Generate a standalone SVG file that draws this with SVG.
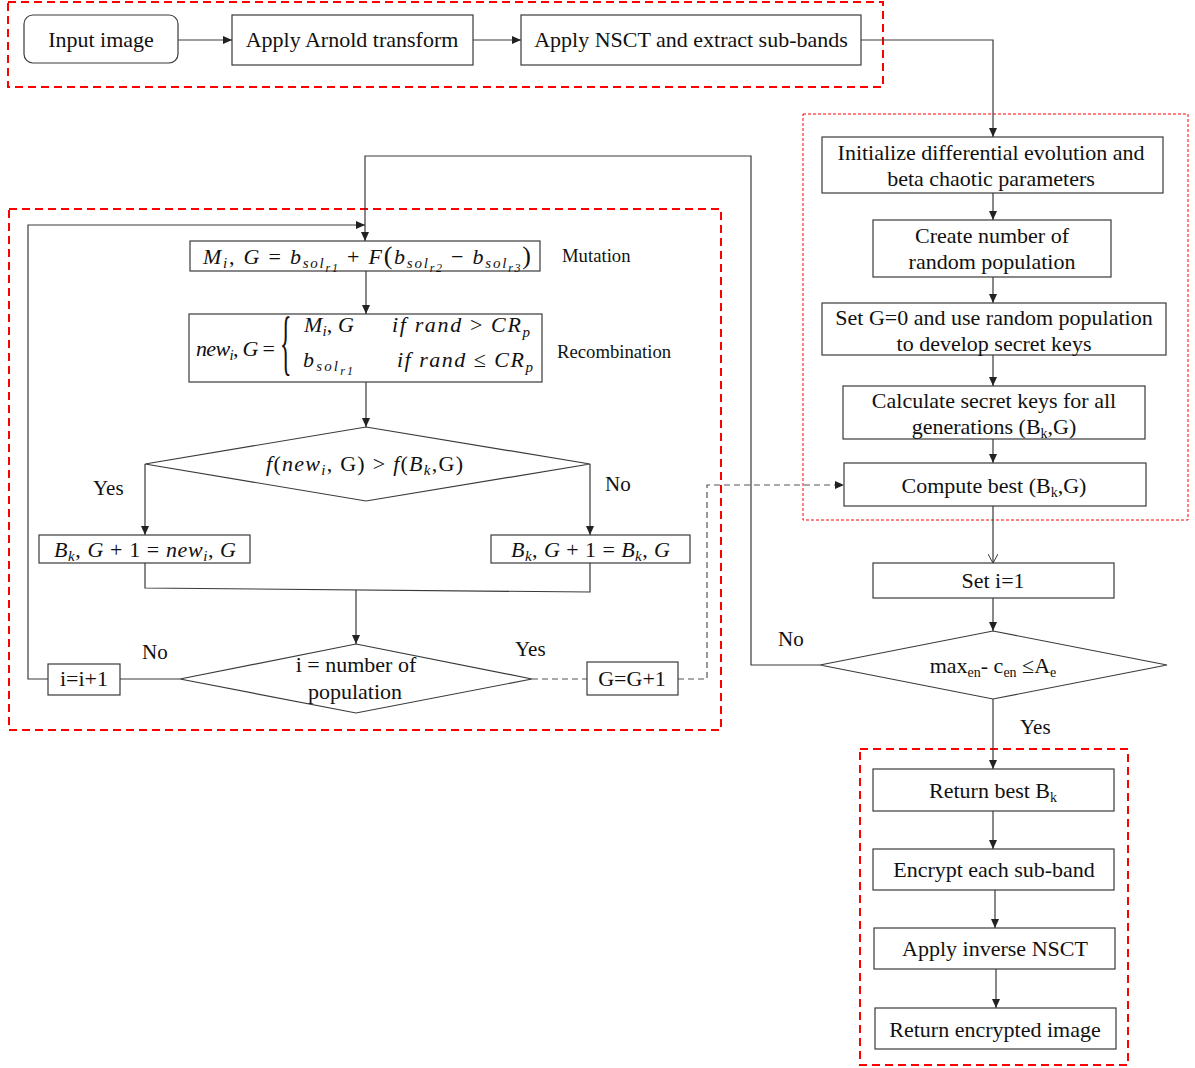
<svg xmlns="http://www.w3.org/2000/svg" width="1195" height="1068" viewBox="0 0 1195 1068">
  <style>
    .bg { fill: #ffffff; }
    .box { fill: #ffffff; stroke: #3a3a3a; stroke-width: 1.2; }
    .grp { fill: none; stroke: #ff0000; stroke-width: 2; stroke-dasharray: 8 5; }
    .grp-thin { fill: none; stroke: #ff0000; stroke-width: 1; stroke-dasharray: 3 2; }
    .wire { fill: none; stroke: #3a3a3a; stroke-width: 1.2; }
    .wire-dash { fill: none; stroke: #555555; stroke-width: 1.2; stroke-dasharray: 6 4; }
    .t { font-family: "Liberation Serif", "Times New Roman", serif; font-size: 22px; fill: #111111; }
    .yn { font-family: "Liberation Serif", "Times New Roman", serif; font-size: 21px; fill: #111111; }
    .c { text-anchor: middle; }
    .lbl { font-family: "Liberation Serif", "Times New Roman", serif; font-size: 18.7px; fill: #111111; }
    .sub { font-size: 14px; }
    .mu { font-family: "Liberation Serif", "Times New Roman", serif; font-size: 22px; fill: #111111; }
    .mi { font-style: italic; }
    .ms { font-style: italic; font-size: 15px; }
    .mss { font-style: italic; font-size: 12px; }
    .big { font-size: 26px; }
  </style>
  <defs>
    <marker id="ah" markerWidth="9" markerHeight="8" refX="9" refY="4" orient="auto" markerUnits="userSpaceOnUse">
      <path d="M0,0 L9,4 L0,8 z" fill="#222222"/>
    </marker>
    <marker id="ahOpen" markerWidth="9" markerHeight="10" refX="9" refY="5" orient="auto" markerUnits="userSpaceOnUse">
      <path d="M0,0 L9,5 L0,10" fill="none" stroke="#3a3a3a" stroke-width="1"/>
    </marker>
  </defs>

  <rect class="bg" x="0" y="0" width="1195" height="1068"/>

  <!-- dashed group frames -->
  <g id="frames">
    <rect class="grp" x="8" y="2" width="875" height="85"/>
    <rect class="grp" x="9" y="209" width="712" height="521"/>
    <rect class="grp-thin" x="803" y="114" width="385" height="406"/>
    <rect class="grp" x="860" y="749" width="268" height="316"/>
  </g>

  <!-- connectors -->
  <g id="connectors">
    <line class="wire" x1="178" y1="40" x2="232" y2="40" marker-end="url(#ah)"/>
    <line class="wire" x1="473" y1="40" x2="521" y2="40" marker-end="url(#ah)"/>
    <polyline class="wire" points="861,40 993,40 993,137" marker-end="url(#ah)"/>
    <line class="wire" x1="993" y1="193" x2="993" y2="220" marker-end="url(#ah)"/>
    <line class="wire" x1="993" y1="277" x2="993" y2="303" marker-end="url(#ah)"/>
    <line class="wire" x1="993" y1="355" x2="993" y2="386" marker-end="url(#ah)"/>
    <line class="wire" x1="993" y1="439" x2="993" y2="463" marker-end="url(#ah)"/>
    <line class="wire" x1="993" y1="506" x2="993" y2="563" marker-end="url(#ahOpen)"/>
    <line class="wire" x1="993" y1="598" x2="993" y2="631" marker-end="url(#ah)"/>
    <polyline class="wire" points="820,665 751,665 751,156 365,156 365,241" marker-end="url(#ah)"/>
    <line class="wire" x1="993" y1="699" x2="993" y2="769" marker-end="url(#ah)"/>
    <line class="wire" x1="993" y1="811" x2="993" y2="849" marker-end="url(#ah)"/>
    <line class="wire" x1="995" y1="890" x2="995" y2="928" marker-end="url(#ah)"/>
    <line class="wire" x1="996" y1="969" x2="996" y2="1008" marker-end="url(#ah)"/>

    <line class="wire" x1="366" y1="271" x2="366" y2="314" marker-end="url(#ah)"/>
    <line class="wire" x1="366" y1="382" x2="366" y2="427" marker-end="url(#ah)"/>
    <polyline class="wire" points="145,464 145,535" marker-end="url(#ah)"/>
    <polyline class="wire" points="590,464 590,535" marker-end="url(#ah)"/>
    <polyline class="wire" points="145,563 145,588 590,592 590,563"/>
    <line class="wire" x1="356" y1="590" x2="356" y2="644" marker-end="url(#ah)"/>
    <line class="wire" x1="180" y1="679" x2="120" y2="679"/>
    <polyline class="wire" points="48,679 28,679 28,225 365,225" marker-end="url(#ah)"/>
    <line class="wire-dash" x1="532" y1="679" x2="587" y2="679"/>
    <polyline class="wire-dash" points="678,679 707,679 707,485 844,485" marker-end="url(#ah)"/>
  </g>

  <!-- input pipeline -->
  <g id="input-image">
    <rect class="box" x="24" y="15" width="154" height="48" rx="9"/>
    <text class="t c" x="101" y="47">Input image</text>
  </g>
  <g id="arnold">
    <rect class="box" x="232" y="15" width="241" height="50"/>
    <text class="t c" x="352" y="47">Apply Arnold transform</text>
  </g>
  <g id="nsct">
    <rect class="box" x="521" y="15" width="340" height="50"/>
    <text class="t c" x="691" y="47">Apply NSCT and extract sub-bands</text>
  </g>

  <!-- parameter setup column -->
  <g id="init">
    <rect class="box" x="822" y="137" width="341" height="56"/>
    <text class="t c" x="991" y="160">Initialize differential evolution and</text>
    <text class="t c" x="991" y="186">beta chaotic parameters</text>
  </g>
  <g id="create-pop">
    <rect class="box" x="873" y="220" width="238" height="57"/>
    <text class="t c" x="992" y="243">Create number of</text>
    <text class="t c" x="992" y="269">random population</text>
  </g>
  <g id="set-g0">
    <rect class="box" x="822" y="303" width="344" height="52"/>
    <text class="t c" x="994" y="325">Set G=0 and use random population</text>
    <text class="t c" x="994" y="351">to develop secret keys</text>
  </g>
  <g id="calc-keys">
    <rect class="box" x="843" y="386" width="302" height="53"/>
    <text class="t c" x="994" y="408">Calculate secret keys for all</text>
    <text class="t c" x="994" y="434">generations (B<tspan class="sub" dy="4">k</tspan><tspan dy="-4">,G)</tspan></text>
  </g>
  <g id="compute-best">
    <rect class="box" x="844" y="463" width="302" height="43"/>
    <text class="t c" x="994" y="493">Compute best (B<tspan class="sub" dy="4">k</tspan><tspan dy="-4">,G)</tspan></text>
  </g>
  <g id="set-i">
    <rect class="box" x="873" y="563" width="241" height="35"/>
    <text class="t c" x="993" y="588">Set i=1</text>
  </g>
  <g id="stop-test">
    <polygon class="box" points="993,631 1167,665 993,699 820,665"/>
    <text class="t c" x="993" y="673">max<tspan class="sub" dy="4">en</tspan><tspan dy="-4">- c</tspan><tspan class="sub" dy="4">en</tspan><tspan dy="-4">  ≤A</tspan><tspan class="sub" dy="4">e</tspan></text>
  </g>

  <!-- output column -->
  <g id="return-best">
    <rect class="box" x="873" y="769" width="241" height="42"/>
    <text class="t c" x="993" y="798">Return best B<tspan class="sub" dy="4">k</tspan></text>
  </g>
  <g id="encrypt">
    <rect class="box" x="873" y="849" width="241" height="41"/>
    <text class="t c" x="994" y="877">Encrypt each sub-band</text>
  </g>
  <g id="inverse-nsct">
    <rect class="box" x="874" y="928" width="241" height="41"/>
    <text class="t c" x="995" y="956">Apply inverse NSCT</text>
  </g>
  <g id="return-image">
    <rect class="box" x="875" y="1008" width="241" height="41"/>
    <text class="t c" x="995" y="1037">Return encrypted image</text>
  </g>

  <!-- differential evolution loop -->
  <g id="mutation">
    <rect class="box" x="190" y="241" width="350" height="30"/>
    <text class="mu" x="203" y="264" textLength="328" lengthAdjust="spacing"><tspan class="mi">M</tspan><tspan class="ms" dy="4">i</tspan><tspan dy="-4">, </tspan><tspan class="mi">G</tspan><tspan> = </tspan><tspan class="mi">b</tspan><tspan class="ms" dy="4">sol</tspan><tspan class="mss" dy="4">r1</tspan><tspan dy="-8"> + </tspan><tspan class="mi">F</tspan><tspan class="big">(</tspan><tspan class="mi">b</tspan><tspan class="ms" dy="4">sol</tspan><tspan class="mss" dy="4">r2</tspan><tspan dy="-8"> − </tspan><tspan class="mi">b</tspan><tspan class="ms" dy="4">sol</tspan><tspan class="mss" dy="4">r3</tspan><tspan class="big" dy="-8">)</tspan></text>
    <text class="lbl" x="562" y="262">Mutation</text>
  </g>

  <g id="recombination">
    <rect class="box" x="189" y="314" width="353" height="68"/>
    <text class="mu" x="196" y="356" textLength="79" lengthAdjust="spacing"><tspan class="mi">new</tspan><tspan class="ms" dy="4">i</tspan><tspan dy="-4">, </tspan><tspan class="mi">G</tspan><tspan> =</tspan></text>
    <text class="mu" style="font-size:48px" transform="translate(280,366) scale(0.5,1.5)">{</text>
    <text class="mu" x="304" y="332" textLength="50" lengthAdjust="spacing"><tspan class="mi">M</tspan><tspan class="ms" dy="4">i</tspan><tspan dy="-4">, </tspan><tspan class="mi">G</tspan></text>
    <text class="mu" x="392" y="332" textLength="138" lengthAdjust="spacing"><tspan class="mi">if rand</tspan><tspan> &gt; </tspan><tspan class="mi">CR</tspan><tspan class="ms" dy="5">p</tspan></text>
    <text class="mu" x="303" y="367" textLength="50" lengthAdjust="spacing"><tspan class="mi">b</tspan><tspan class="ms" dy="4">sol</tspan><tspan class="mss" dy="4">r1</tspan></text>
    <text class="mu" x="397" y="367" textLength="136" lengthAdjust="spacing"><tspan class="mi">if rand</tspan><tspan> ≤ </tspan><tspan class="mi">CR</tspan><tspan class="ms" dy="5">p</tspan></text>
    <text class="lbl" x="557" y="358">Recombination</text>
  </g>

  <g id="selection-test">
    <polygon class="box" points="366,427 590,464 366,501 145,464"/>
    <text class="mu" x="266" y="471" textLength="197" lengthAdjust="spacing"><tspan class="mi">f</tspan><tspan>(</tspan><tspan class="mi">new</tspan><tspan class="ms" dy="4">i</tspan><tspan dy="-4">, G) &gt; </tspan><tspan class="mi">f</tspan><tspan>(</tspan><tspan class="mi">B</tspan><tspan class="ms" dy="4">k</tspan><tspan dy="-4">,G)</tspan></text>
  </g>
  <text class="yn" x="93" y="495">Yes</text>
  <text class="yn" x="605" y="491">No</text>

  <g id="keep-new">
    <rect class="box" x="39" y="535" width="211" height="28"/>
    <text class="mu" x="54" y="557" textLength="182" lengthAdjust="spacing"><tspan class="mi">B</tspan><tspan class="ms" dy="4">k</tspan><tspan dy="-4">, </tspan><tspan class="mi">G</tspan><tspan> + 1 = </tspan><tspan class="mi">new</tspan><tspan class="ms" dy="4">i</tspan><tspan dy="-4">, </tspan><tspan class="mi">G</tspan></text>
  </g>
  <g id="keep-best">
    <rect class="box" x="491" y="535" width="199" height="28"/>
    <text class="mu" x="511" y="557" textLength="159" lengthAdjust="spacing"><tspan class="mi">B</tspan><tspan class="ms" dy="4">k</tspan><tspan dy="-4">, </tspan><tspan class="mi">G</tspan><tspan> + 1 = </tspan><tspan class="mi">B</tspan><tspan class="ms" dy="4">k</tspan><tspan dy="-4">, </tspan><tspan class="mi">G</tspan></text>
  </g>

  <g id="population-test">
    <polygon class="box" points="356,644 532,679 356,713 180,679"/>
    <text class="t c" x="356" y="672">i = number of</text>
    <text class="t c" x="355" y="699">population</text>
  </g>
  <text class="yn" x="142" y="659">No</text>
  <text class="yn" x="515" y="656">Yes</text>

  <g id="next-i">
    <rect class="box" x="48" y="664" width="72" height="31"/>
    <text class="t c" x="84" y="686">i=i+1</text>
  </g>
  <g id="next-g">
    <rect class="box" x="587" y="662" width="91" height="33"/>
    <text class="t c" x="632" y="686">G=G+1</text>
  </g>

  <text class="yn" x="778" y="646">No</text>
  <text class="yn" x="1020" y="734">Yes</text>
</svg>
